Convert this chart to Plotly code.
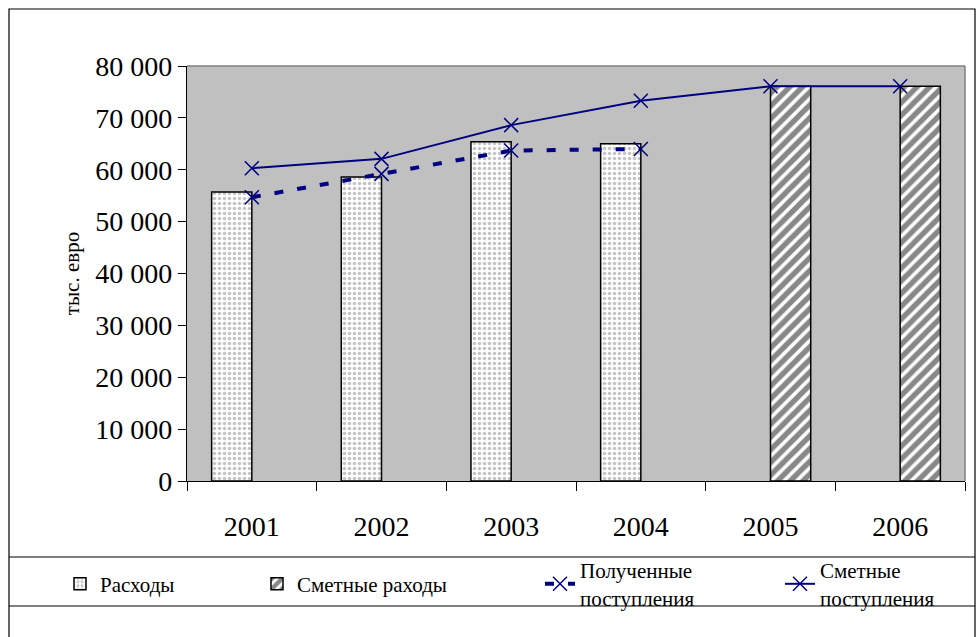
import plotly.graph_objects as go

years = ["2001", "2002", "2003", "2004", "2005", "2006"]
expenses = [55700, 58600, 65400, 65000, None, None]
planned_expenses = [None, None, None, None, 76100, 76100]
received_income = [54700, 59200, 63700, 64000, None, None]
planned_income = [60300, 62100, 68600, 73300, 76100, 76100]
y_ticks = [0, 10000, 20000, 30000, 40000, 50000, 60000, 70000, 80000]

FONT = "Liberation Serif, Times New Roman, DejaVu Serif, serif"
NAVY = "#000080"

# plot area in pixels
L, R, T, B = 187, 965, 66, 481
W, H = 978, 637
PW, PH = R - L, B - T


def px(x):
    return (x - L) / PW


def py(y):
    return (B - y) / PH


fig = go.Figure()
fig.add_trace(go.Bar(
    x=years, y=expenses, name="Расходы", legend="legend2",
    marker=dict(color="white", line=dict(color="black", width=1.5),
                pattern=dict(shape=".", fgcolor="#8a8a8a", bgcolor="white",
                             size=5, solidity=0.4)),
))
fig.add_trace(go.Bar(
    x=years, y=planned_expenses, name="Сметные раходы", legend="legend3",
    marker=dict(color="white", line=dict(color="black", width=1.5),
                pattern=dict(shape="/", fgcolor="#111111", bgcolor="white",
                             size=9, solidity=0.6)),
))
fig.add_trace(go.Scatter(
    x=years, y=received_income, name="Полученные<br>поступления", legend="legend4",
    mode="lines+markers",
    line=dict(color=NAVY, width=4, dash="9px,14px"),
    marker=dict(symbol="x-thin", size=14, color=NAVY, line=dict(color=NAVY, width=1.5)),
))
fig.add_trace(go.Scatter(
    x=years, y=planned_income, name="Сметные<br>поступления", legend="legend5",
    mode="lines+markers",
    line=dict(color=NAVY, width=2),
    marker=dict(symbol="x-thin", size=14, color=NAVY, line=dict(color=NAVY, width=1.5)),
))

shapes = [
    # outer frame
    dict(type="rect", xref="paper", yref="paper", x0=px(9), x1=px(975), y0=py(645), y1=py(9),
         line=dict(color="black", width=1.2), layer="below"),
    # legend separator lines
    dict(type="line", xref="paper", yref="paper", x0=px(9), x1=px(975), y0=py(557), y1=py(557),
         line=dict(color="black", width=1.2)),
    dict(type="line", xref="paper", yref="paper", x0=px(9), x1=px(975), y0=py(606), y1=py(606),
         line=dict(color="black", width=1.2)),
    # plot area gray border (top and right)
    dict(type="line", xref="paper", yref="paper", x0=0, x1=1, y0=1, y1=1,
         line=dict(color="#808080", width=1.5)),
    dict(type="line", xref="paper", yref="paper", x0=1, x1=1, y0=0, y1=1,
         line=dict(color="#808080", width=1.5)),
]

legend_common = dict(font=dict(family=FONT, size=21, color="black"),
                     bgcolor="rgba(0,0,0,0)", yanchor="middle", xanchor="left",
                     y=py(584), orientation="h", itemwidth=30)

fig.update_layout(
    width=W, height=H,
    margin=dict(l=L, r=W - R, t=T, b=H - B, pad=0),
    paper_bgcolor="white", plot_bgcolor="#C0C0C0",
    font=dict(family=FONT, color="black"),
    separators=", ",
    barmode="group", bargap=0.38, bargroupgap=0,
    shapes=shapes,
    legend2=dict(x=px(60), **legend_common),
    legend3=dict(x=px(257), **legend_common),
    legend4=dict(x=px(540), **legend_common),
    legend5=dict(x=px(780), **legend_common),
    xaxis=dict(type="category", range=[-0.5, 5.5], showgrid=False,
               showline=True, linecolor="black", linewidth=1.2,
               ticks="outside", ticklen=9, tickcolor="black", tickson="boundaries",
               ticklabelstandoff=20,
               tickfont=dict(family=FONT, size=28, color="black")),
    yaxis=dict(range=[0, 80000], tickvals=y_ticks, tickformat=",d", showgrid=False,
               zeroline=False, showline=True, linecolor="black", linewidth=1.2,
               ticks="outside", ticklen=8, tickcolor="black",
               tickfont=dict(family=FONT, size=28, color="black"),
               title=dict(text="тыс. евро", standoff=9,
                          font=dict(family=FONT, size=21, color="black"))),
)

fig.write_html("out.html", config={"displayModeBar": False},
               post_script="document.body.style.margin='0px';")
